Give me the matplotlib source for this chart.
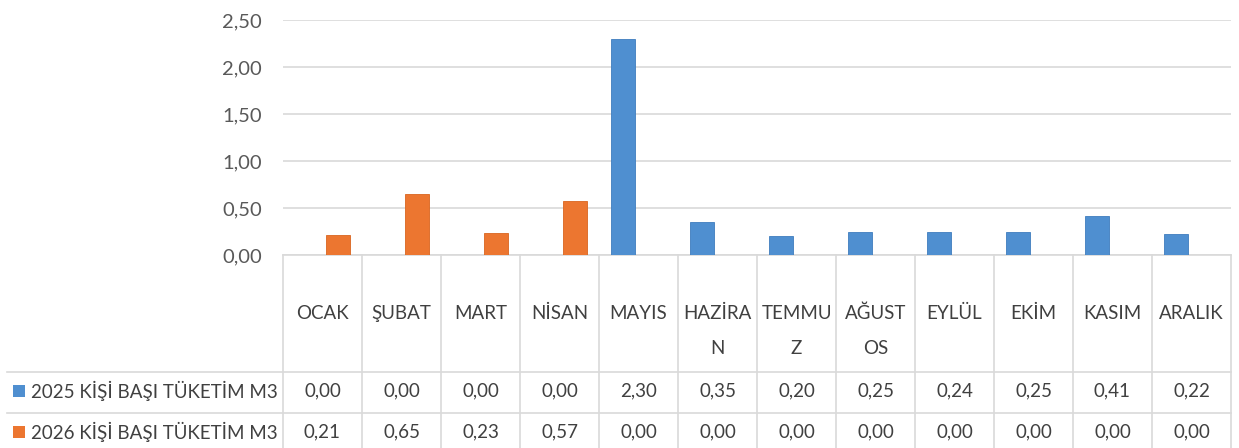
import matplotlib
matplotlib.use('Agg')
import matplotlib.pyplot as plt
import matplotlib.transforms as mtransforms
from matplotlib.patches import Rectangle
from matplotlib.ticker import FuncFormatter
import numpy as np

plt.rcParams['font.family'] = ['Lato', 'DejaVu Sans']

months = ['OCAK', 'ŞUBAT', 'MART', 'NİSAN', 'MAYIS', 'HAZİRA\nN', 'TEMMU\nZ',
          'AĞUST\nOS', 'EYLÜL', 'EKİM', 'KASIM', 'ARALIK']
series_names = ['2025 KİŞİ BAŞI TÜKETİM M3', '2026 KİŞİ BAŞI TÜKETİM M3']
v2025 = [0.00, 0.00, 0.00, 0.00, 2.30, 0.35, 0.20, 0.25, 0.24, 0.25, 0.41, 0.22]
v2026 = [0.21, 0.65, 0.23, 0.57, 0.00, 0.00, 0.00, 0.00, 0.00, 0.00, 0.00, 0.00]
colors = ['#4F8FD0', '#EC7630']

W, H = 1239, 448
fig = plt.figure(figsize=(W / 100, H / 100), dpi=100)
ax_l, ax_r, ax_t, ax_b = 283, 1231, 20, 255
ax = fig.add_axes([ax_l / W, 1 - ax_b / H, (ax_r - ax_l) / W, (ax_b - ax_t) / H])

x = np.arange(len(months))
bw = 0.30
ax.bar(x - 0.2, v2025, bw, color=colors[0], edgecolor='#3F7DBE', linewidth=0.6, zorder=3)
ax.bar(x + 0.2, v2026, bw, color=colors[1], edgecolor='#D9651F', linewidth=0.6, zorder=3)

ax.set_xlim(-0.5, len(months) - 0.5)
ax.set_ylim(0, 2.5)
ax.set_yticks(np.arange(0, 2.51, 0.5))
ax.yaxis.set_major_formatter(FuncFormatter(lambda v, p: f'{v:.2f}'.replace('.', ',')))
ax.tick_params(axis='y', length=0, pad=15, labelsize=14.5, labelcolor='#595959')
ax.set_xticks([])
ax.grid(axis='y', color='#D9D9D9', linewidth=1.2, zorder=0)
for s in ax.spines.values():
    s.set_visible(False)

# data table below the axes
axh = ax_b - ax_t
axw = ax_r - ax_l
def fy(py):
    return -(py - ax_b) / axh
def fx(px):
    return (px - ax_l) / axw

trans = mtransforms.blended_transform_factory(ax.transData, ax.transAxes)
line_kw = dict(color='#D9D9D9', linewidth=1.2, clip_on=False)

y_top, y_r1, y_r2, y_bot = fy(255), fy(371.5), fy(412.5), fy(455)
# horizontal lines
ax.plot([0, 1], [y_top, y_top], transform=ax.transAxes, **line_kw)
for yy in (y_r1, y_r2, y_bot):
    ax.plot([fx(7), 1], [yy, yy], transform=ax.transAxes, **line_kw)
# vertical lines
for b in np.arange(len(months) + 1) - 0.5:
    ax.plot([b, b], [y_top, y_bot], transform=trans, **line_kw)

txt_kw = dict(ha='center', va='center', fontsize=13.5, color='#404040', clip_on=False)
for i, m in enumerate(months):
    parts = m.split('\n')
    ax.text(i, fy(313), parts[0], transform=trans, **txt_kw)
    if len(parts) > 1:
        ax.text(i, fy(348), parts[1], transform=trans, **txt_kw)
    ax.text(i, fy(391), f'{v2025[i]:.2f}'.replace('.', ','), transform=trans, **txt_kw)
    ax.text(i, fy(432), f'{v2026[i]:.2f}'.replace('.', ','), transform=trans, **txt_kw)

for name, c, py in zip(series_names, colors, (391, 432)):
    ax.add_patch(Rectangle((fx(13), fy(py + 6)), 12 / axw, 12 / axh, transform=ax.transAxes,
                           facecolor=c, edgecolor='none', clip_on=False))
    ax.text(fx(31), fy(py), name, transform=ax.transAxes, ha='left', va='center',
            fontsize=13.5, color='#404040', clip_on=False)

fig.savefig('out.png', dpi=100)
